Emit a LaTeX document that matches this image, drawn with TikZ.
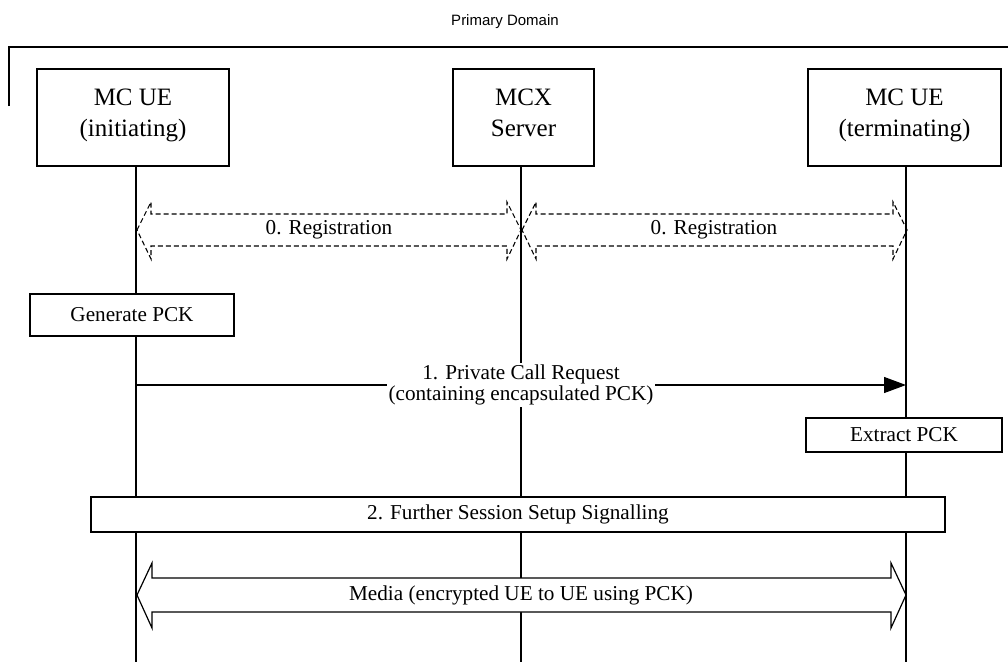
\documentclass[tikz,border=0pt]{standalone}
\usepackage{fontspec}
\setmainfont{Liberation Serif}
\newfontfamily\arialfont{Liberation Sans}
\usetikzlibrary{arrows.meta}
\newcommand\twoline[2]{\begin{tabular}{@{}c@{}}#1\\#2\end{tabular}}
\begin{document}
\begin{tikzpicture}[x=1pt,y=-1pt, line width=1.2pt,
  entity/.style={draw, fill=white, inner sep=0pt, minimum height=97pt},
  etext/.style={font=\fontsize{25}{31}\selectfont, inner sep=0pt, yshift=3.2pt},
  action/.style={draw, fill=white, font=\fontsize{21.2}{24}\selectfont, inner sep=0pt},
  lbl/.style={font=\fontsize{21.2}{24}\selectfont, inner sep=1pt, align=center},
  regarrow/.style={draw, dash pattern=on 5pt off 3pt, line width=1.1pt, line join=miter},
  blockarrow/.style={draw, fill=white, line width=1.2pt, line join=miter}]
\useasboundingbox (0,0) rectangle (1008,662);

% title and domain bracket
\node[font=\arialfont\fontsize{15}{18}\selectfont] (dom) at (505,22) {Primary Domain};
\coordinate (b1) at (9,106);
\coordinate (b2) at (9,47);
\coordinate (b3) at (1008,47);
\draw (b1) -- (b2) -- (b3);

% lifelines
\coordinate (l1t) at (136,166); \coordinate (l1b) at (136,662);
\coordinate (l2t) at (521,166); \coordinate (l2b) at (521,662);
\coordinate (l3t) at (906,166); \coordinate (l3b) at (906,662);
\draw (l1t) -- (l1b);
\draw (l2t) -- (l2b);
\draw (l3t) -- (l3b);

% entities
\node[entity, minimum width=192pt] (ue1) at (133,117.5) {};
\node[etext] (ue1t) at (ue1.center) {\twoline{MC UE}{(initiating)}};
\node[entity, minimum width=141pt] (mcx) at (523.5,117.5) {};
\node[etext] (mcxt) at (mcx.center) {\twoline{MCX}{Server}};
\node[entity, minimum width=193pt] (ue2) at (904.5,117.5) {};
\node[etext] (ue2t) at (ue2.center) {\twoline{MC UE}{(terminating)}};

% registrations
\path[regarrow] (137,230) -- (151,202) -- (151,214) -- (507,214) -- (507,202) -- (521,230)
  -- (507,259) -- (507,246) -- (151,246) -- (151,259) -- cycle;
\node[lbl] (reg1) at (329,230) {0. Registration};
\path[regarrow] (522,230) -- (536,202) -- (536,214) -- (893,214) -- (893,202) -- (907,230)
  -- (893,259) -- (893,246) -- (536,246) -- (536,259) -- cycle;
\node[lbl] (reg2) at (714,230) {0. Registration};

% generate PCK
\node[action, minimum width=204pt, minimum height=42pt] (gen) at (132,315) {Generate PCK};

% private call request
\coordinate (pcs) at (136,385);
\coordinate (pce) at (906,385);
\draw[-{Triangle[length=22pt,width=16pt]}] (pcs) -- (pce)
  node[lbl, midway, fill=white, inner sep=2pt, font=\fontsize{21.2}{21}\selectfont] (pcr) {1. Private Call Request\\(containing encapsulated PCK)};

% extract PCK
\node[action, minimum width=196pt, minimum height=34pt] (ext) at (904,435) {Extract PCK};

% further session setup
\node[action, minimum width=854pt, minimum height=35pt] (fss) at (518,514.5) {2. Further Session Setup Signalling};

% media
\path[blockarrow] (137,595) -- (152,563) -- (152,578) -- (891,578) -- (891,563) -- (906,595)
  -- (891,628) -- (891,612) -- (152,612) -- (152,628) -- cycle;
\node[lbl] (media) at (521,595) {Media (encrypted UE to UE using PCK)};
\end{tikzpicture}
\end{document}
